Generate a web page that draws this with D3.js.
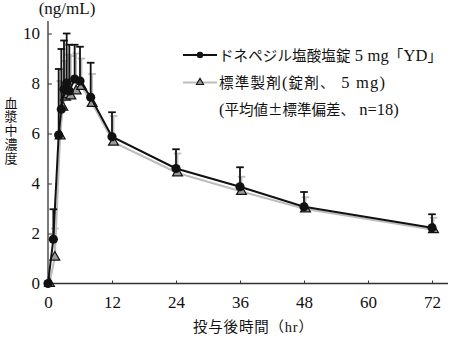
<!DOCTYPE html>
<html>
<head>
<meta charset="utf-8">
<script src="https://cdn.jsdelivr.net/npm/d3@7"></script>
<style>
  html, body { margin: 0; padding: 0; background: #fff; }
  svg { display: block; }
  .num { font-family: "Liberation Serif", "DejaVu Serif", serif; }
  .jp  { font-family: "Liberation Serif", "Noto Sans CJK JP", serif; }
  .cjk { font-family: "Noto Sans CJK JP", sans-serif; }
</style>
</head>
<body>
<svg id="chart" width="450" height="345"></svg>
<script>
// Sampling times after dosing (hr)
const times = [0, 1, 2, 2.5, 3, 3.5, 4, 5, 6, 8, 12, 24, 36, 48, 72];

// Test tablet: mean and SD (ng/mL)
const testMean = [0, 1.77, 5.94, 6.97, 7.77, 8.02, 7.70, 8.18, 8.10, 7.45, 5.87, 4.60, 3.87, 3.07, 2.23];
const testSD   = [0, 1.20, 2.64, 2.41, 1.95, 1.98, 1.85, 1.37, 1.37, 1.38, 0.98, 0.77, 0.78, 0.59, 0.54];

// Reference tablet: mean and SD (ng/mL)
const refMean = [0, 1.05, 5.90, 7.05, 7.45, 7.55, 7.50, 7.70, 7.88, 7.20, 5.65, 4.42, 3.68, 2.98, 2.15];
const refSD   = [0, 1.15, 2.20, 1.50, 1.45, 1.60, 1.60, 1.50, 1.12, 1.18, 1.05, 0.78, 0.59, 0.47, 0.48];

const xTicks = [0, 12, 24, 36, 48, 60, 72];
const yTicks = [0, 2, 4, 6, 8, 10];

const legendLabels = [
  "ドネペジル塩酸塩錠 5 mg「YD」",
  "標準製剤(錠剤、 5 mg)",
  "(平均値±標準偏差、 n=18)"
];
const yTitle = "(ng/mL)";
const yLabelChars = ["血", "漿", "中", "濃", "度"];
const xTitle = "投与後時間（hr）";

const svg = d3.select("#chart");

const x = d3.scaleLinear().domain([0, 72]).range([48, 432]);
const y = d3.scaleLinear().domain([0, 10]).range([283.5, 33.5]);

const axisColor = "#333";

// Axis spines
svg.append("line")
  .attr("x1", x(0)).attr("x2", x(0))
  .attr("y1", y(0)).attr("y2", y(10.5))
  .attr("stroke", axisColor).attr("stroke-width", 1.3);
svg.append("line")
  .attr("x1", x(0)).attr("x2", 448)
  .attr("y1", y(0)).attr("y2", y(0))
  .attr("stroke", axisColor).attr("stroke-width", 1.3);

// Y axis ticks (inward) and labels
const yAxis = svg.append("g")
  .attr("transform", `translate(${x(0)},0)`)
  .call(d3.axisLeft(y).tickValues(yTicks).tickFormat(d3.format("d"))
    .tickSizeInner(-4).tickSizeOuter(0).tickPadding(8));
yAxis.select(".domain").remove();
yAxis.selectAll("line").attr("stroke", axisColor);
yAxis.selectAll("text").attr("class", "num").attr("font-size", 17).attr("fill", "#111");

// X axis ticks (inward) and labels
const xAxis = svg.append("g")
  .attr("transform", `translate(0,${y(0)})`)
  .call(d3.axisBottom(x).tickValues(xTicks).tickFormat(d3.format("d"))
    .tickSizeInner(-3).tickSizeOuter(0).tickPadding(12));
xAxis.select(".domain").remove();
xAxis.selectAll("line").attr("stroke", axisColor);
xAxis.selectAll("text").attr("class", "num").attr("font-size", 17).attr("fill", "#111");

// Unit label
svg.append("text").attr("class", "num")
  .attr("x", 67).attr("y", 14).attr("text-anchor", "middle")
  .attr("font-size", 17).attr("fill", "#111").text(yTitle);

// Vertical Y title, one character per line
svg.append("g").selectAll("text").data(yLabelChars).join("text")
  .attr("class", "jp")
  .attr("x", 11).attr("y", (d, i) => 107.5 + i * 13.8)
  .attr("text-anchor", "middle").attr("font-size", 13).attr("fill", "#111")
  .text(d => d);

// X title
svg.append("text").attr("class", "jp")
  .attr("x", 193).attr("y", 332)
  .attr("textLength", 120).attr("lengthAdjust", "spacing")
  .attr("font-size", 14.5).attr("fill", "#111").text(xTitle);

const testData = times.map((t, i) => ({ t, m: testMean[i], sd: testSD[i] }));
const refData  = times.map((t, i) => ({ t, m: refMean[i], sd: refSD[i] }));

const refShift = 1.5;   // small horizontal offset so the two series stay distinguishable
const refColor = "#bdbdbd";

function errorBars(g, data, color, width) {
  const bars = g.selectAll("g.eb").data(data.filter(d => d.sd > 0)).join("g").attr("class", "eb");
  bars.append("line")
    .attr("x1", d => x(d.t)).attr("x2", d => x(d.t))
    .attr("y1", d => y(d.m)).attr("y2", d => y(d.m + d.sd))
    .attr("stroke", color).attr("stroke-width", width);
  bars.append("line")
    .attr("x1", d => x(d.t) - 3.8).attr("x2", d => x(d.t) + 3.8)
    .attr("y1", d => y(d.m + d.sd)).attr("y2", d => y(d.m + d.sd))
    .attr("stroke", color).attr("stroke-width", 1.8);
}

const line = d3.line().x(d => x(d.t)).y(d => y(d.m));

// Reference series error bars and line (behind)
const refG = svg.append("g").attr("transform", `translate(${refShift},0)`);
errorBars(refG.append("g"), refData, refColor, 1.8);

const testG = svg.append("g");
errorBars(testG.append("g"), testData, "#111", 1.8);

refG.append("path").datum(refData)
  .attr("d", line).attr("fill", "none")
  .attr("stroke", refColor).attr("stroke-width", 2);

testG.append("path").datum(testData)
  .attr("d", line).attr("fill", "none")
  .attr("stroke", "#111").attr("stroke-width", 2);

// Markers
const tri = d3.symbol().type(d3.symbolTriangle).size(42);
refG.append("g").selectAll("path").data(refData).join("path")
  .attr("d", tri)
  .attr("transform", d => `translate(${x(d.t)},${y(d.m)})`)
  .attr("fill", "#9a9a9a").attr("stroke", "#111").attr("stroke-width", 1.2);

testG.append("g").selectAll("circle").data(testData).join("circle")
  .attr("cx", d => x(d.t)).attr("cy", d => y(d.m)).attr("r", 4.6)
  .attr("fill", "#111");

// Legend
const lg = svg.append("g");
const legY = [55, 82.5, 109];
const legWidths = [223, 166, null];
// test series swatch
lg.append("line").attr("x1", 183).attr("x2", 217).attr("y1", legY[0]).attr("y2", legY[0])
  .attr("stroke", "#111").attr("stroke-width", 1.8);
lg.append("circle").attr("cx", 200).attr("cy", legY[0]).attr("r", 3.2).attr("fill", "#111");
// reference series swatch
lg.append("line").attr("x1", 183).attr("x2", 217).attr("y1", legY[1]).attr("y2", legY[1])
  .attr("stroke", refColor).attr("stroke-width", 1.8);
lg.append("path").attr("d", d3.symbol().type(d3.symbolTriangle).size(22))
  .attr("transform", `translate(200,${legY[1]})`)
  .attr("fill", "#9a9a9a").attr("stroke", "#111").attr("stroke-width", 1.1);

// Split a label into Latin and CJK runs so each gets its own face and size
function runs(str) {
  return str.match(/[\x20-\x7e]+|[^\x20-\x7e]+/g).map(s => ({ s, latin: /^[\x20-\x7e]/.test(s) }));
}

lg.selectAll("text").data(legendLabels).join("text")
  .attr("x", 219).attr("y", (d, i) => legY[i] + 5.5)
  .attr("textLength", (d, i) => legWidths[i])
  .attr("lengthAdjust", (d, i) => legWidths[i] ? "spacing" : null)
  .attr("fill", "#111")
  .each(function (d) {
    d3.select(this).selectAll("tspan").data(runs(d)).join("tspan")
      .attr("class", r => r.latin ? "num" : "cjk")
      .attr("font-size", r => r.latin ? 16.5 : 14.5)
      .text(r => r.s);
  });
</script>
</body>
</html>
